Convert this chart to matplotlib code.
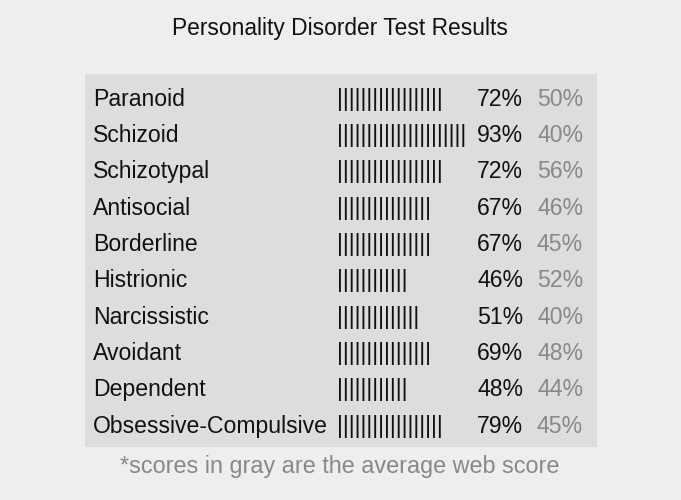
import matplotlib
matplotlib.use("Agg")
import matplotlib.pyplot as plt

categories = ["Paranoid", "Schizoid", "Schizotypal", "Antisocial", "Borderline",
              "Histrionic", "Narcissistic", "Avoidant", "Dependent", "Obsessive-Compulsive"]
scores = [72, 93, 72, 67, 67, 46, 51, 69, 48, 79]
web_avg = [50, 40, 56, 46, 45, 52, 40, 48, 44, 45]
bar_counts = [18, 22, 18, 16, 16, 12, 14, 16, 12, 18]

title = "Personality Disorder Test Results"
footnote = "*scores in gray are the average web score"

plt.rcParams['font.family'] = ['Liberation Sans', 'DejaVu Sans']

W, H = 681, 500
fig = plt.figure(figsize=(W / 100, H / 100), dpi=100, facecolor="#eeeeee")

px_l, px_r, px_t, px_b = 85, 597, 74, 447
ax = fig.add_axes([px_l / W, 1 - px_b / H, (px_r - px_l) / W, (px_b - px_t) / H])
ax.set_facecolor("#dddddd")
for s in ax.spines.values():
    s.set_visible(False)
ax.set_xticks([])
ax.set_yticks([])
n = len(categories)
ax.set_xlim(px_l, px_r)
ax.set_ylim(n - 1 + 0.57, -0.69)

fs = 16.6
for i, (cat, sc, av, bc) in enumerate(zip(categories, scores, web_avg, bar_counts)):
    ax.text(93, i, cat, fontsize=fs, color="#111111", ha="left", va="center")
    ax.text(337, i, "|" * bc, fontsize=fs, color="#111111", ha="left", va="center")
    ax.text(523, i, f"{sc}%", fontsize=fs, color="#111111", ha="right", va="center")
    ax.text(583, i, f"{av}%", fontsize=fs, color="#888888", ha="right", va="center")

fig.text(340 / W, 1 - 28 / H, title, fontsize=16.4, color="#111111", ha="center", va="center")
fig.text(340 / W, 1 - 467 / H, footnote, fontsize=16.8, color="#888888", ha="center", va="center")

fig.savefig("out.png", dpi=100, facecolor=fig.get_facecolor())
